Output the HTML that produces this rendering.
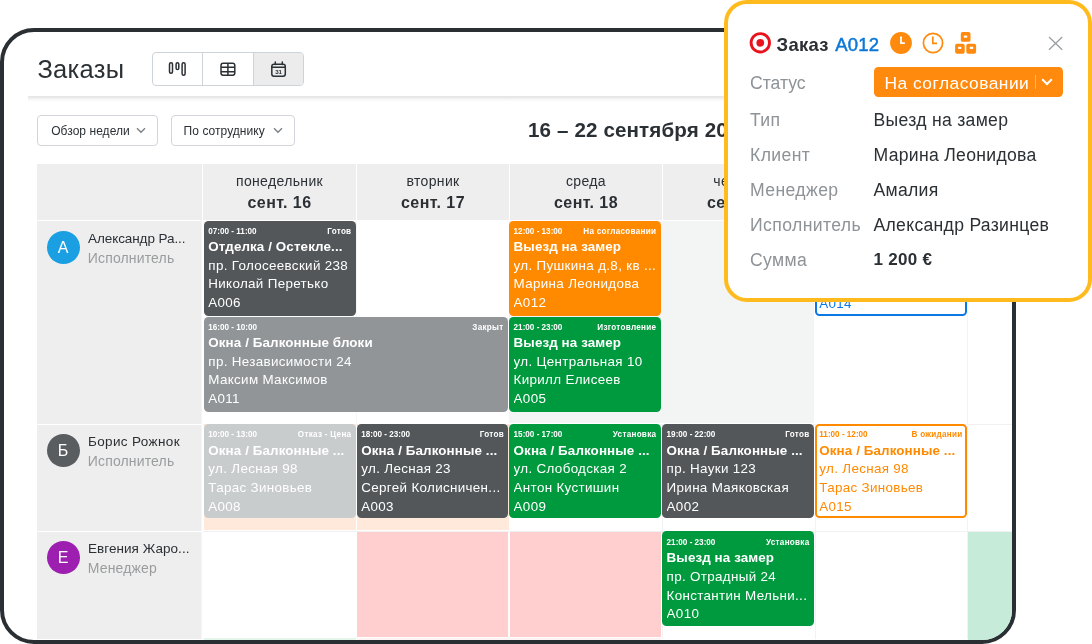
<!DOCTYPE html>
<html lang="ru">
<head>
<meta charset="utf-8">
<title>Заказы</title>
<style>
*{box-sizing:border-box;margin:0;padding:0}
html,body{width:1092px;height:644px;overflow:hidden;background:#fff}
body{position:relative;font-family:"Liberation Sans","DejaVu Sans",sans-serif;color:#2b3035}
.abs{position:absolute}
/* ---------- device frame ---------- */
.frame{position:absolute;left:0;top:28px;width:1016px;height:616px;border:4px solid #2a2f34;border-radius:34px;overflow:hidden;background:#fff}
.page{position:absolute;left:-4px;top:-32px;width:1092px;height:644px}
.title{position:absolute;left:37.4px;top:54.6px;font-size:25.5px;line-height:28px;letter-spacing:.3px;color:#2b3035;white-space:nowrap}
.bgroup{position:absolute;left:152px;top:51.5px;width:152px;height:34.3px;border:1px solid #ced3d8;border-radius:4px;overflow:hidden;background:#fff}
.bgroup i{position:absolute;top:0;bottom:0;width:1px;background:#ced3d8}
.bgroup .act{position:absolute;left:101px;top:0;bottom:0;right:0;background:#ececec}
.hshadow{position:absolute;left:28px;top:96px;width:990px;height:6px;background:linear-gradient(#e6e6e6,#e9e9e9 30%,#f5f5f5 48%,#fff)}
.dd{position:absolute;top:115px;height:31.3px;border:1px solid #d2d5d9;border-radius:4px;background:#fff;font-size:12px;line-height:30.6px;color:#2b3035;padding-left:12.9px;letter-spacing:.05px;white-space:nowrap}
.dd svg{position:absolute;top:11.2px}
.range{position:absolute;left:528px;top:117.4px;font-size:20.6px;line-height:26px;font-weight:bold;color:#2b3035;white-space:nowrap;letter-spacing:.12px}
/* ---------- calendar grid ---------- */
.cell{position:absolute}
.hd{position:absolute;top:164px;height:56px;width:152px;background:#eeeeee;text-align:center;color:#2b3035}
.hd .d{position:absolute;left:0;right:0;top:7.6px;font-size:14px;line-height:18px;letter-spacing:.35px}
.hd .n{position:absolute;left:0;right:0;top:29px;font-size:16px;line-height:20px;font-weight:bold;letter-spacing:.42px}
.side{position:absolute;left:37px;width:165px;border-right:1px solid #f5f5f5;background:#eeeeee}
.av{position:absolute;left:46.5px;width:33.2px;height:33.2px;border-radius:50%;color:#fff;font-size:16px;line-height:33.4px;text-align:center;margin-top:-.5px}
.nm{position:absolute;left:88px;font-size:13.5px;line-height:18px;color:#2b3035;white-space:nowrap;letter-spacing:-.08px}
.rl{position:absolute;left:87.8px;font-size:14px;line-height:18px;color:#9a9c9e;white-space:nowrap;letter-spacing:.15px}
/* ---------- events ---------- */
.ev{position:absolute;width:151.8px;height:94.8px;border-radius:4.5px;color:#fff;padding:5.6px 4.4px 0 4.3px;overflow:hidden;white-space:nowrap;font-size:13.4px;line-height:18.7px}
.ev .t{display:flex;justify-content:space-between;font-size:8.15px;line-height:10px;font-weight:bold;margin-bottom:1.3px}
.ev .t div+div{letter-spacing:.28px}
.ev b,.ev span{display:block;overflow:hidden;text-overflow:clip}
.ev b{letter-spacing:.1px}
.ev span{letter-spacing:.33px}
.ev.r2{padding-top:6.6px}
.ev.r2.oline{padding-top:4.6px}
.dark{background:#53575a}
.gray{background:#919598}
.lgray{background:#c9cccd}
.org{background:#ff8a00}
.grn{background:#009a3e}
.oline{background:#fff;border:2px solid #ff8a00;color:#ff8a00;padding:3.6px 2.4px 0 2.3px}
.bline{background:#fff;border:2px solid #0b78e3;color:#0b78e3;padding:3.6px 2.4px 0 2.3px}
/* ---------- popup ---------- */
.pop{position:absolute;left:724px;top:0;width:368px;height:302px;border:4px solid #ffba1e;border-radius:23px;background:#fff}
.pop .lb{position:absolute;left:22px;font-size:17.6px;line-height:24px;color:#8e9398;white-space:nowrap;letter-spacing:.4px}
.pop .vl{position:absolute;left:145.5px;font-size:17.6px;line-height:24px;color:#2b3035;white-space:nowrap;letter-spacing:.3px}
.pop .hdr{position:absolute;left:48.6px;top:29.2px;font-size:18.5px;line-height:24px;font-weight:bold;color:#2b3035;white-space:nowrap;letter-spacing:.25px}
.pop .hdr em{font-style:normal;color:#0b78d6;font-weight:normal;-webkit-text-stroke:.5px #0b78d6;margin-left:1.2px;letter-spacing:.2px}
.stat{position:absolute;left:145.5px;top:63.2px;width:189.7px;height:29.5px;border-radius:4.5px;background:#ff8a0d;color:#fff;font-size:17.4px;line-height:32.2px;padding-left:11px;white-space:nowrap;letter-spacing:.47px}
</style>
</head>
<body>
<div class="frame"><div class="page">

  <div class="title">Заказы</div>

  <div class="bgroup">
    <div class="act"></div>
    <i style="left:49px"></i><i style="left:100px"></i>
    <svg class="abs" style="left:0;top:0" width="152" height="34" viewBox="0 0 152 34" fill="none" stroke="#2b3035" stroke-width="1.5">
      <!-- kanban -->
      <rect x="16.5" y="9.8" width="3" height="10.4" rx="1.5"/>
      <rect x="23.1" y="9.8" width="2.7" height="6.7" rx="1.35"/>
      <rect x="29.1" y="9.8" width="3" height="12.4" rx="1.5"/>
      <!-- table -->
      <rect x="68" y="10.2" width="13.8" height="12" rx="2.2"/>
      <path d="M68 14.3h13.8M68 18.7h13.8M74.9 10.2v12"/>
      <!-- calendar -->
      <rect x="118.8" y="11.3" width="13.5" height="11.9" rx="2.2"/>
      <path d="M118.8 14.2h13.5M122.3 8.9v2.6M129.3 8.9v2.6" stroke-linecap="round"/>
    </svg>
    <div class="abs" style="left:120.6px;top:15.6px;width:10px;text-align:center;font-size:6.2px;line-height:8px;font-weight:bold;color:#2b3035;letter-spacing:-.1px">31</div>
  </div>

  <div class="hshadow"></div>

  <div class="dd" style="left:37.3px;width:120.7px">Обзор недели
    <svg style="left:98px" width="10" height="7" viewBox="0 0 10 7" fill="none" stroke="#7c8084" stroke-width="1.4"><path d="M1 1.2l4 4 4-4"/></svg></div>
  <div class="dd" style="left:171px;width:123.6px;padding-left:11.6px">По сотруднику
    <svg style="left:100.5px" width="10" height="7" viewBox="0 0 10 7" fill="none" stroke="#7c8084" stroke-width="1.4"><path d="M1 1.2l4 4 4-4"/></svg></div>

  <div class="range">16 – 22 сентября 2024</div>

  <!-- grid backgrounds -->
  <div id="grid">
    <!-- header -->
    <div class="hd" style="left:37px;width:165px"></div>
    <div class="hd" style="left:203px;width:153px"><div class="d">понедельник</div><div class="n">сент. 16</div></div>
    <div class="hd" style="left:357px"><div class="d">вторник</div><div class="n">сент. 17</div></div>
    <div class="hd" style="left:510px"><div class="d">среда</div><div class="n">сент. 18</div></div>
    <div class="hd" style="left:663px"><div class="d">четверг</div><div class="n">сент. 19</div></div>
    <div class="hd" style="left:816px"><div class="d">пятница</div><div class="n">сент. 20</div></div>
    <div class="hd" style="left:969px"><div class="d">суббота</div><div class="n">сент. 21</div></div>

    <!-- sidebar rows -->
    <div class="side" style="top:221px;height:202.5px"></div>
    <div class="side" style="top:424.5px;height:106px"></div>
    <div class="side" style="top:531.5px;height:107px"></div>

    <!-- row 1 cell tints -->
    <div class="cell" style="left:508.7px;top:221px;width:305.7px;height:202px;background:#f3f4f4"></div>
    <!-- faint grid lines -->
    <div class="cell" style="left:967px;top:221px;width:1px;height:418px;background:#f3f3f3"></div>
    <div class="cell" style="left:815px;top:424px;width:1px;height:215px;background:#f3f3f3"></div>
    <div class="cell" style="left:662px;top:424px;width:1px;height:215px;background:#f3f3f3"></div>
    <div class="cell" style="left:356px;top:221px;width:1px;height:203px;background:#f6f6f6"></div>
    <div class="cell" style="left:203px;top:423.5px;width:810px;height:1px;background:#f1f1f1"></div>
    <div class="cell" style="left:203px;top:530.5px;width:810px;height:1px;background:#f1f1f1"></div>
    <!-- row 2 tints -->
    <div class="cell" style="left:203.5px;top:423.7px;width:152.5px;height:106px;background:#ffe9db"></div>
    <div class="cell" style="left:357px;top:423.7px;width:152px;height:106px;background:#ffe9db"></div>
    <!-- row 3 tints -->
    <div class="cell" style="left:357px;top:531.5px;width:151.3px;height:105.5px;background:#ffcfcf"></div>
    <div class="cell" style="left:510px;top:531.5px;width:151px;height:105.5px;background:#ffcfcf"></div>
    <div class="cell" style="left:968px;top:531.5px;width:50px;height:108px;background:#c6ebd9"></div>
    <div class="cell" style="left:203.5px;top:637.5px;width:152px;height:2px;background:#e4f5ec"></div>
    <div class="cell" style="left:357px;top:637.5px;width:304px;height:2px;background:#fff3f3"></div>
  </div>

  <!-- people -->
  <div class="av" style="top:231.6px;background:#1a9fe3">А</div>
  <div class="nm" style="top:230px">Александр Ра...</div>
  <div class="rl" style="top:249px">Исполнитель</div>

  <div class="av" style="top:434.8px;background:#5a5d60">Б</div>
  <div class="nm" style="top:433.2px;letter-spacing:.36px">Борис Рожнок</div>
  <div class="rl" style="top:452.2px">Исполнитель</div>

  <div class="av" style="top:541.8px;background:#9c1fb0">Е</div>
  <div class="nm" style="top:540.4px;letter-spacing:.05px">Евгения Жаро...</div>
  <div class="rl" style="top:559.4px">Менеджер</div>

  <!-- events row 1 -->
  <div class="ev dark" style="left:204px;top:221.2px"><div class="t"><div>07:00 - 11:00</div><div>Готов</div></div><b>Отделка / Остекле...</b><span>пр. Голосеевский 238</span><span>Николай Перетько</span><span>A006</span></div>
  <div class="ev gray" style="left:204px;top:317px;width:304px"><div class="t"><div>16:00 - 10:00</div><div>Закрыт</div></div><b>Окна / Балконные блоки</b><span>пр. Независимости 24</span><span>Максим Максимов</span><span>A011</span></div>
  <div class="ev org" style="left:509.3px;top:221.2px;width:151.4px"><div class="t"><div>12:00 - 13:00</div><div>На согласовании</div></div><b>Выезд на замер</b><span>ул. Пушкина д.8, кв ...</span><span>Марина Леонидова</span><span>A012</span></div>
  <div class="ev grn" style="left:509.3px;top:317px;width:151.4px"><div class="t"><div>21:00 - 23:00</div><div>Изготовление</div></div><b>Выезд на замер</b><span>ул. Центральная 10</span><span>Кирилл Елисеев</span><span>A005</span></div>
  <div class="ev bline" style="left:815px;top:221.7px;width:152px"><div class="t"><div>09:00 - 10:00</div><div>Новый</div></div><b>Выезд на замер</b><span>ул. Садовая 5</span><span>Олег Петров</span><span>A014</span></div>

  <!-- events row 2 -->
  <div class="ev lgray r2" style="left:204px;top:423.7px"><div class="t"><div>10:00 - 13:00</div><div>Отказ - Цена</div></div><b>Окна / Балконные ...</b><span>ул. Лесная 98</span><span>Тарас Зиновьев</span><span>A008</span></div>
  <div class="ev dark r2" style="left:357px;top:423.7px;width:151.4px"><div class="t"><div>18:00 - 23:00</div><div>Готов</div></div><b>Окна / Балконные ...</b><span>ул. Лесная 23</span><span>Сергей Колисничен...</span><span>A003</span></div>
  <div class="ev grn r2" style="left:509.3px;top:423.7px;width:151.4px"><div class="t"><div>15:00 - 17:00</div><div>Установка</div></div><b>Окна / Балконные ...</b><span>ул. Слободская 2</span><span>Антон Кустишин</span><span>A009</span></div>
  <div class="ev dark r2" style="left:662.3px;top:423.7px;width:151.6px"><div class="t"><div>19:00 - 22:00</div><div>Готов</div></div><b>Окна / Балконные ...</b><span>пр. Науки 123</span><span>Ирина Маяковская</span><span>A002</span></div>
  <div class="ev oline r2" style="left:815px;top:423.7px;width:152px"><div class="t"><div>11:00 - 12:00</div><div>В ожидании</div></div><b>Окна / Балконные ...</b><span>ул. Лесная 98</span><span>Тарас Зиновьев</span><span>A015</span></div>

  <!-- events row 3 -->
  <div class="ev grn r2" style="left:662.3px;top:531.3px;width:151.6px"><div class="t"><div>21:00 - 23:00</div><div>Установка</div></div><b>Выезд на замер</b><span>пр. Отрадный 24</span><span>Константин Мельни...</span><span>A010</span></div>

</div></div>

<!-- ---------- popup ---------- -->
<div class="pop">
  <svg class="abs" style="left:20px;top:27px" width="24" height="24" viewBox="0 0 24 24"><circle cx="12.3" cy="11.8" r="9.2" fill="#fff" stroke="#e8131d" stroke-width="2.9"/><circle cx="12.3" cy="11.8" r="3.9" fill="#e8131d"/></svg>
  <div class="hdr">Заказ <em>A012</em></div>
  <!-- clock filled -->
  <svg class="abs" style="left:161px;top:27.2px" width="24" height="24" viewBox="0 0 24 24"><circle cx="12" cy="12" r="10.9" fill="#ff8a0d"/><path d="M12 5.6v6.5h3.8" fill="none" stroke="#fff" stroke-width="1.8"/></svg>
  <!-- clock outline -->
  <svg class="abs" style="left:193.3px;top:27px" width="24" height="24" viewBox="0 0 24 24"><circle cx="12" cy="12" r="9.6" fill="#fff" stroke="#ff8a0d" stroke-width="1.7"/><path d="M11.8 5.5v6.8h4.2" fill="none" stroke="#ff8a0d" stroke-width="1.7"/></svg>
  <!-- boxes -->
  <svg class="abs" style="left:226px;top:28px" width="24" height="24" viewBox="0 0 24 24" fill="#ff8a0d"><rect x="6.8" y="0.1" width="9.7" height="9.7" rx="1.9"/><rect x="1.1" y="11.8" width="9.6" height="9.9" rx="1.9"/><rect x="12.3" y="11.8" width="9.8" height="9.9" rx="1.9"/><g fill="#fff"><rect x="9.8" y="3.6" width="3.5" height="2.2" rx=".7"/><rect x="4" y="14.7" width="3.4" height="2.2" rx=".7"/><rect x="15.7" y="14.7" width="3.6" height="2.2" rx=".7"/></g></svg>
  <!-- close -->
  <svg class="abs" style="left:320px;top:31.6px" width="16" height="16" viewBox="0 0 16 16" fill="none" stroke="#9a9ea2" stroke-width="1.25"><path d="M1 1l13.2 12.8M14.2 1L1 13.8"/></svg>

  <div class="lb" style="top:67.2px;letter-spacing:0">Статус</div>
  <div class="stat">На согласовании
    <i class="abs" style="left:161.5px;top:8px;width:1px;height:14px;background:#ffb866"></i>
    <svg class="abs" style="left:167.5px;top:10.5px" width="12" height="8" viewBox="0 0 12 8" fill="none" stroke="#fff" stroke-width="2"><path d="M1.2 1.2l4.8 4.8 4.8-4.8"/></svg>
  </div>
  <div class="lb" style="top:104px">Тип</div><div class="vl" style="top:104px">Выезд на замер</div>
  <div class="lb" style="top:139.3px">Клиент</div><div class="vl" style="top:139.3px">Марина Леонидова</div>
  <div class="lb" style="top:174.3px">Менеджер</div><div class="vl" style="top:174.3px">Амалия</div>
  <div class="lb" style="top:209.3px">Исполнитель</div><div class="vl" style="top:209.3px">Александр Разинцев</div>
  <div class="lb" style="top:244px">Сумма</div><div class="vl" style="top:244px;font-weight:bold;font-size:17px">1 200 €</div>
</div>
</body>
</html>
